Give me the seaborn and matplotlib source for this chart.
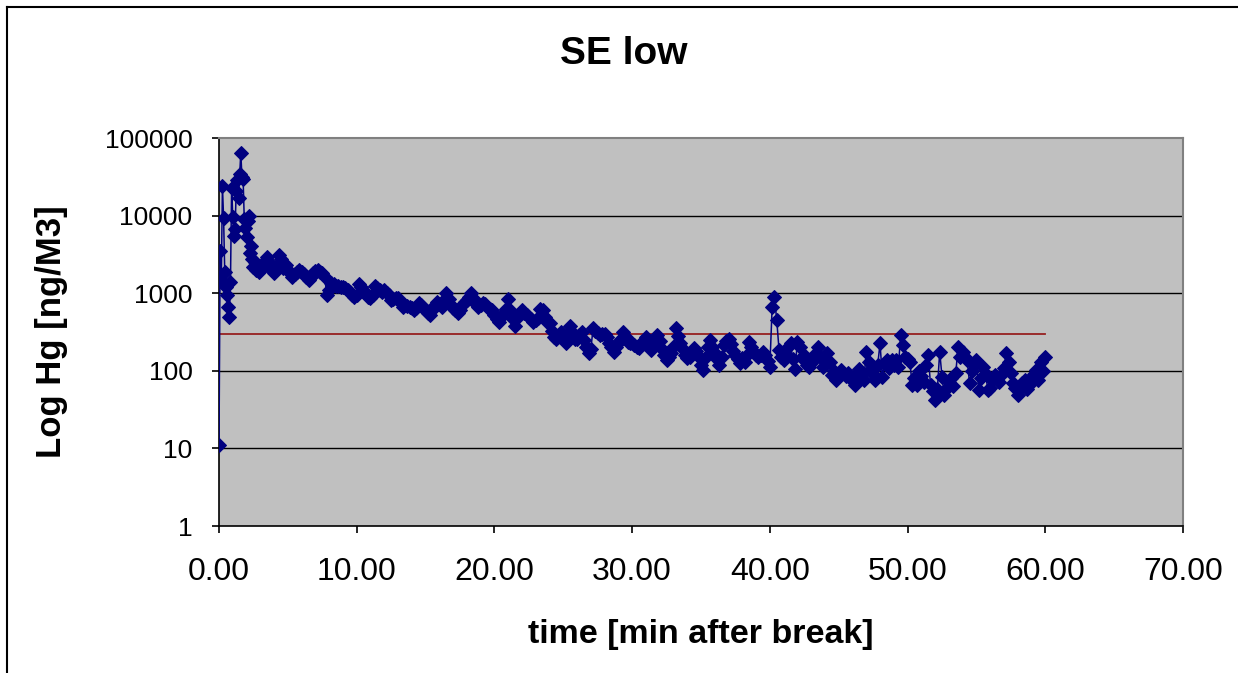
import numpy as np
import pandas as pd
import matplotlib
matplotlib.use("Agg")
import matplotlib.pyplot as plt
from matplotlib.lines import Line2D
from matplotlib.ticker import FixedLocator, FuncFormatter, NullLocator
import seaborn as sns

# ---------------- data ----------------
title = "SE low"
x_label = "time [min after break]"
y_label = "Log Hg [ng/M3]"

# first 3 minutes sampled every 5 s
hg_first3min = [11, 3500, 1500, 24000, 9300, 1900, 1200, 940, 670, 500, 1400, 23000,
                9700, 5500, 6700, 21000, 29000, 17000, 34000, 65000, 31000, 30000, 9100, 6900,
                5300, 8500, 10000, 3300, 4000, 2800, 2200, 2500, 2000, 2300, 2100, 1900]
# from minute 3 to minute 60 sampled every 10 s (one row per minute)
hg_rest = [
    2000, 2300, 2600, 2900, 2500, 2000,   # 3
    1800, 2200, 3100, 2800, 2100, 2300,   # 4
    2000, 1800, 1630, 1750, 1900, 2000,   # 5
    1900, 1750, 1600, 1480, 1600, 1800,   # 6
    1950, 2000, 1900, 1800, 1630, 950,    # 7
    1100, 1340, 1300, 1250, 1230, 1200,   # 8
    1200, 1150, 1100, 1050, 950, 890,     # 9
    950, 1320, 1200, 1050, 1000, 900,     # 10
    860, 950, 1220, 1150, 1100, 1050,     # 11
    1100, 1000, 950, 820, 850, 860,       # 12
    860, 780, 670, 700, 680, 670,         # 13
    640, 600, 650, 740, 700, 640,         # 14
    600, 560, 525, 600, 700, 780,         # 15
    720, 670, 820, 1000, 850, 710,        # 16
    650, 600, 550, 600, 700, 760,         # 17
    820, 900, 1000, 850, 720, 670,        # 18
    700, 740, 720, 650, 620, 600,         # 19
    520, 470, 430, 500, 550, 620,         # 20
    830, 600, 470, 380, 480, 560,         # 21
    600, 560, 525, 500, 470, 430,         # 22
    450, 480, 620, 600, 500, 430,         # 23
    410, 330, 275, 260, 290, 316,         # 24
    280, 225, 300, 380, 320, 260,         # 25
    260, 290, 316, 250, 200, 168,         # 26
    190, 355, 330, 310, 290, 300,         # 27
    300, 270, 225, 200, 176, 200,         # 28
    230, 260, 316, 280, 237, 230,         # 29
    225, 215, 205, 195, 220, 250,         # 30
    275, 230, 186, 220, 260, 290,         # 31
    240, 190, 160, 138, 150, 168,         # 32
    200, 355, 280, 225, 190, 160,         # 33
    145, 150, 170, 195, 180, 150,         # 34
    120, 102, 152, 200, 250, 200,         # 35
    168, 140, 118, 150, 215, 240,         # 36
    260, 220, 180, 160, 140, 126,         # 37
    145, 131, 160, 237, 200, 176,         # 38
    160, 150, 160, 176, 160, 135,         # 39
    113, 670, 890, 450, 186, 150,         # 40
    138, 160, 200, 225, 140, 107,         # 41
    237, 200, 145, 160, 120, 113,         # 42
    125, 138, 170, 204, 150, 113,         # 43
    140, 168, 130, 89, 100, 76,           # 44
    90, 102, 95, 85, 93, 80,              # 45
    75, 66, 90, 107, 90, 76,              # 46
    176, 130, 107, 90, 76, 120,           # 47
    225, 84, 126, 138, 110, 138,          # 48
    120, 138, 113, 290, 215, 152,         # 49
    140, 131, 66, 80, 66, 100,            # 50
    85, 72, 118, 160, 66, 55,             # 51
    42, 59, 176, 84, 49, 60,              # 52
    72, 80, 63, 93, 204, 150,             # 53
    176, 150, 138, 69, 100, 120,          # 54
    138, 56, 80, 113, 90, 56,             # 55
    60, 75, 89, 80, 72, 90,               # 56
    110, 168, 130, 93, 70, 60,            # 57
    49, 60, 69, 75, 59, 65,               # 58
    80, 90, 102, 76, 131, 100,            # 59
    152,                                  # 60
]
sample_step_first = 5 / 60.0   # minutes
sample_step_rest = 10 / 60.0   # minutes
rest_start = 3.0

limit_value = 300
limit_span = [0, 60]

x_ticks = [0, 10, 20, 30, 40, 50, 60, 70]
y_ticks = [1, 10, 100, 1000, 10000, 100000]

# ---------------- build frame ----------------
time_min = np.concatenate([np.arange(len(hg_first3min)) * sample_step_first,
                           rest_start + np.arange(len(hg_rest)) * sample_step_rest])
df = pd.DataFrame({"time": time_min, "hg": hg_first3min + hg_rest})
limit_df = pd.DataFrame({"time": limit_span, "hg": [limit_value] * len(limit_span)})

# ---------------- figure ----------------
W, H = 1238, 673
fig = plt.figure(figsize=(W / 100, H / 100), dpi=100)
fig.patch.set_facecolor("white")
ax = fig.add_axes([219 / W, 1 - 526 / H, (1183 - 219) / W, (526 - 138) / H])
ax.set_facecolor("#C0C0C0")

font = "Liberation Sans"

ax.set_yscale("log")
ax.set_xlim(x_ticks[0], x_ticks[-1])
ax.set_ylim(y_ticks[0], y_ticks[-1])

# horizontal grid
for v in y_ticks[1:-1]:
    ax.axhline(v, color="black", lw=1.0, zorder=1)

sns.lineplot(data=limit_df, x="time", y="hg", ax=ax, color="#962020", lw=1.3,
             estimator=None, zorder=2)
sns.lineplot(data=df, x="time", y="hg", ax=ax, color="#000080", lw=1.1,
             marker="D", markersize=6.8, markeredgecolor="#000080",
             markerfacecolor="#000080", estimator=None, sort=False, zorder=3)

ax.xaxis.set_major_locator(FixedLocator(x_ticks))
ax.yaxis.set_major_locator(FixedLocator(y_ticks))
ax.yaxis.set_minor_locator(NullLocator())
ax.xaxis.set_major_formatter(FuncFormatter(lambda v, p: f"{v:.2f}"))
ax.yaxis.set_major_formatter(FuncFormatter(lambda v, p: f"{int(round(v))}"))

ax.tick_params(axis="x", direction="out", length=5, width=1.2, color="black",
               labelsize=23, pad=17)
ax.tick_params(axis="y", direction="out", length=5, width=1.2, color="black",
               labelsize=19, pad=14)
for lab in ax.get_xticklabels() + ax.get_yticklabels():
    lab.set_fontfamily(font)

for side in ["top", "right"]:
    ax.spines[side].set_color("#808080")
    ax.spines[side].set_linewidth(1.5)
for side in ["left", "bottom"]:
    ax.spines[side].set_color("black")
    ax.spines[side].set_linewidth(1.2)

ax.set_xlabel("")
ax.set_ylabel("")
fig.text(701 / W, 1 - 634 / H, x_label, ha="center", va="center",
         fontsize=24.5, fontweight="bold", fontfamily=font)
fig.text(51 / W, 1 - 332 / H, y_label, ha="center", va="center", rotation=90,
         fontsize=25, fontweight="bold", fontfamily=font)
fig.text(624 / W, 1 - 54 / H, title, ha="center", va="center",
         fontsize=28, fontweight="bold", fontfamily=font)

# outer chart frame (left and top edges visible in the reference)
fig.add_artist(Line2D([6.5 / W, 6.5 / W], [0, 1 - 6.5 / H], transform=fig.transFigure,
                      color="black", lw=1.5))
fig.add_artist(Line2D([6.5 / W, 1], [1 - 6.5 / H, 1 - 6.5 / H], transform=fig.transFigure,
                      color="black", lw=1.5))

fig.savefig("out.png", dpi=100)
